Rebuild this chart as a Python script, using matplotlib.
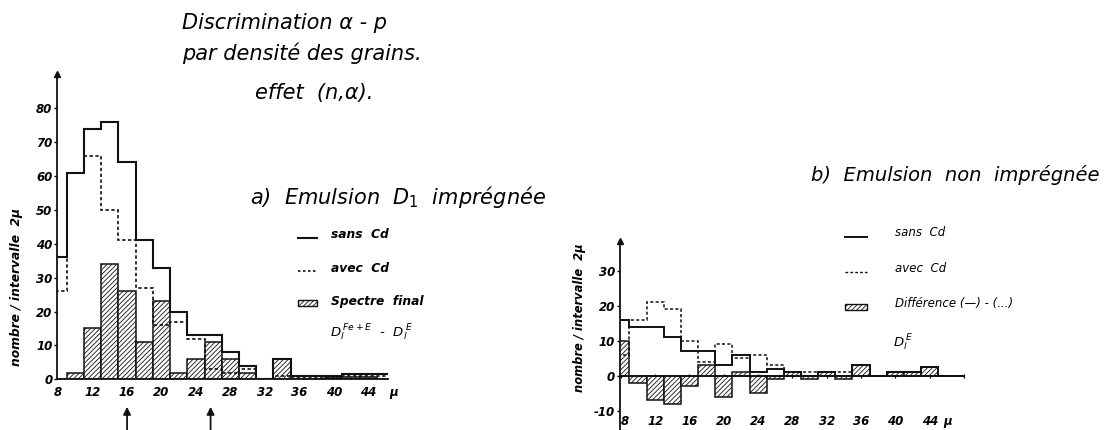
import matplotlib
matplotlib.use("Agg")
import matplotlib.pyplot as plt
import numpy as np
from matplotlib.lines import Line2D
from matplotlib.patches import Rectangle

# ---------------- data ----------------
# panel a : Emulsion D1 impregnee  (bins of 2 micron, centred on even values)
edges_a = np.arange(7, 48, 2)              # 7, 9, ..., 47
sans_cd_a = [36, 61, 74, 76, 64, 41, 33, 20, 13, 13, 8, 4, 0, 6, 1, 1, 1, 1.5, 1.5, 1.5]
avec_cd_a = [26, 61, 66, 50, 41, 27, 16, 17, 12, 3, 2, 3, 0, 1, 0.5, 0.5, 0.5, 1, 1, 1]
final_a   = [0, 2, 15, 34, 26, 11, 23, 2, 6, 11, 6, 2, 0, 6, 0, 0, 0.7, 0.7, 0.7, 0]

# panel b : Emulsion non impregnee
edges_b = np.arange(7, 50, 2)              # 7, 9, ..., 49
sans_cd_b = [16, 14, 14, 11, 7, 7, 3, 6, 1, 2, 1, 0, 1, 0, 3, 0, 1, 1, 2.5, 0, 0]
avec_cd_b = [6, 16, 21, 19, 10, 4, 9, 5, 6, 3, 0, 1, 0, 1, 0, 0, 0, 0, 0, 0, 0]
diff_b    = [10, -2, -7, -8, -3, 3, -6, 1, -5, -1, 1, -1, 1, -1, 3, 0, 1, 1, 2.5, 0, 0]

xticks_a = [8, 12, 16, 20, 24, 28, 32, 36, 40, 44]
yticks_a = [0, 10, 20, 30, 40, 50, 60, 70, 80]
xticks_b = [8, 12, 16, 20, 24, 28, 32, 36, 40, 44, 48]
yticks_b = [-10, 0, 10, 20, 30]
arrows_a = [16.0, 25.7]

# ---------------- figure ----------------
W, H = 1107, 430
plt.rcParams['font.family'] = ['DejaVu Sans']
plt.rcParams['mathtext.fontset'] = 'dejavusans'
plt.rcParams['mathtext.default'] = 'it'
plt.rcParams['hatch.linewidth'] = 0.6
fig = plt.figure(figsize=(W / 100, H / 100), dpi=100)

def P(x, y):
    return (x / W, 1 - y / H)

tickfont = dict(style='oblique', weight='bold', size=8.5)
K = '#111111'
HATCH = '///////'

def style_axes(ax):
    for s in ('top', 'right'):
        ax.spines[s].set_visible(False)
    for s in ('left', 'bottom'):
        ax.spines[s].set_linewidth(1.3)
        ax.spines[s].set_color(K)
    ax.set_facecolor('none')

def centers(edges):
    return (edges[:-1] + edges[1:]) / 2

# ---- panel a ----
axA = fig.add_axes([57.3 / W, 1 - 379.3 / H, (388 - 57.3) / W, (379.3 - 74.4) / H])
style_axes(axA)
axA.set_xlim(7.9, 46.3)
axA.set_ylim(0, 90)
axA.bar(centers(edges_a), final_a, width=2, facecolor='white', edgecolor=K,
        hatch=HATCH, linewidth=1.1, zorder=2)
axA.stairs(sans_cd_a, edges_a, color=K, linewidth=1.5, zorder=3)
axA.stairs(avec_cd_a, edges_a, color=K, linewidth=1.2, linestyle=(0, (2, 1.5)), zorder=3)
axA.set_xticks(xticks_a)
axA.set_xticklabels([str(v) for v in xticks_a], **tickfont)
axA.set_yticks(yticks_a)
axA.set_yticklabels([str(v) for v in yticks_a], **tickfont)
axA.tick_params(axis='x', length=0, pad=5)
axA.tick_params(axis='y', direction='out', length=2.5, width=1, pad=1)
axA.plot([0], [1], marker='^', color=K, markersize=5, transform=axA.transAxes, clip_on=False)
axA.text(46.5, -4.0, 'μ', ha='left', va='center', clip_on=False, **tickfont)
for xa in arrows_a:
    axA.annotate('', xy=(xa, -7.3), xytext=(xa, -16.5), annotation_clip=False,
                 arrowprops=dict(arrowstyle='-|>', lw=1.3, color=K, mutation_scale=11))
fig.text(*P(16.7, 287.5), 'nombre / intervalle  2μ', rotation=90, ha='center', va='center',
         style='oblique', weight='bold', size=8.8)

# ---- panel b ----
axB = fig.add_axes([620 / W, 0, 344 / W, 189 / H])
style_axes(axB)
axB.set_xlim(7.9, 48)
axB.set_ylim(-15.5, 38.5)
axB.spines['bottom'].set_position(('data', 0))
axB.bar(centers(edges_b), diff_b, width=2, facecolor='white', edgecolor=K,
        hatch=HATCH, linewidth=1.1, zorder=2)
axB.stairs(sans_cd_b, edges_b, color=K, linewidth=1.4, zorder=3)
axB.stairs(avec_cd_b, edges_b, color=K, linewidth=1.1, linestyle=(0, (2, 1.5)), zorder=3)
axB.set_xticks(xticks_b)
axB.set_xticklabels([str(v) if v < 48 else '' for v in xticks_b], **tickfont)
for lbl in axB.get_xticklabels()[:1]:
    lbl.set_horizontalalignment('left')
axB.set_yticks(yticks_b)
axB.set_yticklabels(['-10', '0', '10', '20', '30'], **tickfont)
axB.tick_params(axis='x', direction='inout', length=3, width=0.9, pad=27)
axB.tick_params(axis='y', direction='out', length=2.5, width=1, pad=1)
axB.plot([0], [1], marker='^', color=K, markersize=5, transform=axB.transAxes, clip_on=False)
axB.text(46.1, -13.1, 'μ', ha='center', va='center', clip_on=False, **tickfont)
fig.text(*P(580, 318), 'nombre / intervalle  2μ', rotation=90, ha='center', va='center',
         style='oblique', weight='bold', size=8.3)

# ---- titles ----
tfont = dict(style='oblique', size=15, ha='left', va='center')
fig.text(*P(181.7, 23), 'Discrimination α - p', **tfont)
fig.text(*P(181.7, 53), 'par densité des grains.', **tfont)
fig.text(*P(255, 93), 'effet  (n,α).', **tfont)
fig.text(*P(250, 197), r'a)  Emulsion  $D_1$  imprégnée', style='oblique', size=15,
         ha='left', va='center')
fig.text(*P(811, 175), 'b)  Emulsion  non  imprégnée', style='oblique', size=14,
         ha='left', va='center')

# ---- legend a ----
lf = dict(style='oblique', weight='bold', size=8.8, ha='left', va='center')
fig.add_artist(Line2D([298 / W, 317 / W], [1 - 238 / H, 1 - 238 / H], color=K, lw=1.5))
fig.text(*P(331, 235), 'sans  Cd', **lf)
fig.add_artist(Line2D([298 / W, 317 / W], [1 - 271 / H, 1 - 271 / H], color=K, lw=1.2,
                      linestyle=(0, (1.5, 1.5))))
fig.text(*P(331, 268), 'avec  Cd', **lf)
fig.add_artist(Rectangle(P(298, 306), 19 / W, 6 / H, facecolor='white', edgecolor=K,
                         hatch=HATCH, lw=1.0))
fig.text(*P(331, 302), 'Spectre  final', **lf)
fig.text(*P(330, 333), r'$D_l^{\,Fe+E}$  -  $D_l^{\,E}$', style='oblique', size=9.5,
         ha='left', va='center')

# ---- legend b ----
lb = dict(style='oblique', size=8.5, ha='left', va='center')
fig.add_artist(Line2D([845 / W, 867 / W], [1 - 237 / H, 1 - 237 / H], color=K, lw=1.4))
fig.text(*P(895, 233), 'sans  Cd', **lb)
fig.add_artist(Line2D([845 / W, 867 / W], [1 - 272 / H, 1 - 272 / H], color=K, lw=1.0,
                      linestyle=(0, (2, 1.5))))
fig.text(*P(895, 268), 'avec  Cd', **lb)
fig.add_artist(Rectangle(P(845, 310), 22 / W, 6 / H, facecolor='white', edgecolor=K,
                         hatch=HATCH, lw=1.0))
fig.text(*P(895, 304), 'Différence (—) - (...)', **lb)
fig.text(*P(893, 343), r'$D_l^{\,E}$', style='oblique', size=9.5, ha='left', va='center')

fig.savefig('out.png', dpi=100, facecolor='white')
